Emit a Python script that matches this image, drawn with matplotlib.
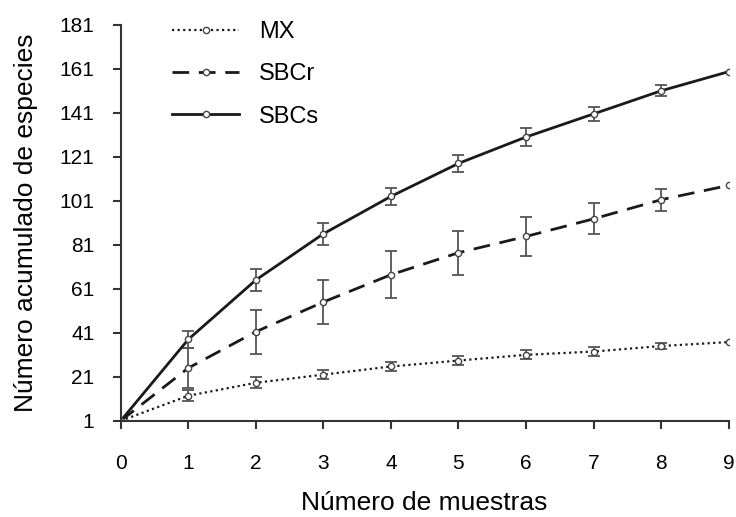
import numpy as np
import matplotlib.pyplot as plt

plt.rcParams['font.family'] = ['Liberation Sans', 'DejaVu Sans']

muestras = [0, 1, 2, 3, 4, 5, 6, 7, 8, 9]

mx = [1, 12.4, 18.3, 22, 25.7, 28.4, 31, 32.5, 35, 36.8]
mx_err = [0, 2.5, 2.5, 2.2, 2.2, 2, 2, 2, 1.5, 0]

sbcr = [1, 25, 41.5, 55, 67.4, 77.4, 84.8, 92.8, 101.5, 108]
sbcr_err = [0, 9, 10, 10, 10.7, 10, 9, 7, 5, 0]

sbcs = [1, 38, 65, 86, 103, 118, 130, 140.5, 151, 159.7]
sbcs_err = [0, 4, 5, 5, 4, 4, 4, 3, 2.5, 0]

y_ticks = [1, 21, 41, 61, 81, 101, 121, 141, 161, 181]

fig, ax = plt.subplots(figsize=(7.36, 5.17), dpi=100)
fig.subplots_adjust(left=0.164, right=0.99, top=0.952, bottom=0.186)

series = [
    ("MX", mx, mx_err, (0, (1, 1.5)), 1.6),
    ("SBCr", sbcr, sbcr_err, (0, (6, 3.5)), 2.0),
    ("SBCs", sbcs, sbcs_err, "-", 2.0),
]
for nombre, vals, err, ls, lw in series:
    # barras de error solo en los puntos intermedios
    ax.errorbar(muestras[1:-1], vals[1:-1], yerr=err[1:-1], fmt="none",
                ecolor="#555555", elinewidth=1.3, capsize=4, capthick=1.3)
    ax.plot(muestras, vals, color="#1a1a1a", linestyle=ls, linewidth=lw,
            marker="o", markersize=4.5, markerfacecolor="white", markeredgecolor="#444444",
            markeredgewidth=1.0, label=nombre)

ax.set_xlim(0, 9)
ax.set_ylim(1, 181)
ax.set_xticks(muestras)
ax.set_yticks(y_ticks)
ax.spines['top'].set_visible(False)
ax.spines['right'].set_visible(False)
for s in ['left', 'bottom']:
    ax.spines[s].set_linewidth(1.5)
    ax.spines[s].set_color("#333333")
ax.tick_params(direction='out', length=6, width=1.5, colors="#333333", labelsize=15,
               labelcolor="black")
ax.tick_params(axis='x', pad=18)
ax.tick_params(axis='y', pad=13)

ax.set_xlabel("Número de muestras", fontsize=19, labelpad=13)
ax.set_ylabel("Número acumulado de especies", fontsize=19, labelpad=15)

fig.legend(loc="upper left", bbox_to_anchor=(172 / 736, 1 - 21 / 517), frameon=False,
           fontsize=17, handlelength=2.85, labelspacing=0.86, handletextpad=0.85,
           borderpad=0, borderaxespad=0)

fig.savefig("out.png", dpi=100)
